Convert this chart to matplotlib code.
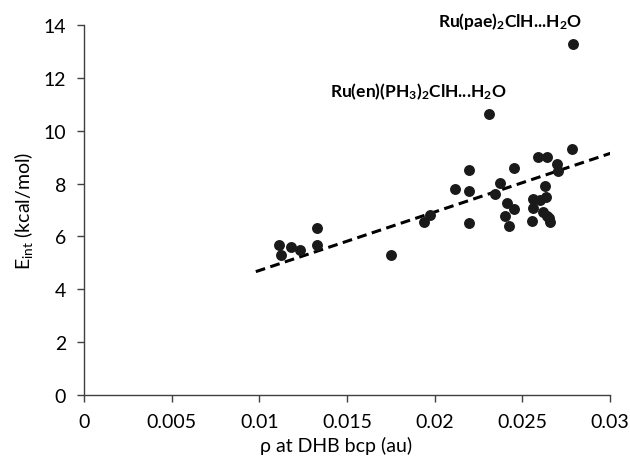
import numpy as np
import matplotlib
matplotlib.use("Agg")
from matplotlib import pyplot as plt

plt.rcParams['font.family'] = ['Lato', 'DejaVu Sans']
plt.rcParams['mathtext.fontset'] = 'custom'
plt.rcParams['mathtext.rm'] = 'Lato'
plt.rcParams['mathtext.bf'] = 'Lato:bold'
plt.rcParams['mathtext.default'] = 'regular'

# electron density at the DHB bond critical point (au)
rho = [0.01114, 0.01124, 0.01179, 0.01232, 0.01331, 0.01331, 0.01751,
       0.01941, 0.01974, 0.02116, 0.02196, 0.02196, 0.02196, 0.02312,
       0.02344, 0.02373, 0.02411, 0.02452, 0.02452, 0.02401, 0.02424,
       0.02588, 0.02643, 0.02696, 0.02705, 0.02781, 0.02791, 0.02631,
       0.02563, 0.02601, 0.02635, 0.02563, 0.02555, 0.02620, 0.02639,
       0.02650, 0.02658]
# interaction energies (kcal/mol)
e_int = [5.66, 5.28, 5.61, 5.48, 6.31, 5.68, 5.28,
         6.56, 6.82, 7.80, 8.53, 7.71, 6.50, 10.64,
         7.61, 8.03, 7.27, 8.60, 7.02, 6.79, 6.38,
         9.00, 9.00, 8.75, 8.49, 9.32, 13.29, 7.90,
         7.40, 7.36, 7.49, 7.07, 6.60, 6.92, 6.77,
         6.69, 6.56]

# trendline as drawn in the original
trend_x = [0.0098, 0.0301]
trend_slope = 221.4
trend_intercept = 2.498

labels = [(0.02791, 13.29, r'Ru(pae)$_\mathbf{2}$ClH...H$_\mathbf{2}$O', (6.5, 16.5)),
          (0.02312, 10.64, r'Ru(en)(PH$_\mathbf{3}$)$_\mathbf{2}$ClH...H$_\mathbf{2}$O', (12.5, 16.5))]

x_ticks = [0, 0.005, 0.01, 0.015, 0.02, 0.025, 0.03]
x_tick_labels = ['0', '0.005', '0.01', '0.015', '0.02', '0.025', '0.03']
y_ticks = [0, 2, 4, 6, 8, 10, 12, 14]

fig = plt.figure(figsize=(6.3, 4.77), dpi=100)
ax = fig.add_axes([0.1333, 0.1698, 0.835, 0.7757])

ax.scatter(rho, e_int, s=62, color='#1a1a1a', zorder=3, linewidths=0)

xs = np.array(trend_x)
ax.plot(xs, trend_slope * xs + trend_intercept, color='black', lw=2.2,
        ls=(0, (3.2, 1.8)), zorder=2)

for x, y, txt, off in labels:
    ax.annotate(txt, xy=(x, y), xytext=off, textcoords='offset points',
                ha='right', va='center', fontsize=12.5, fontweight='bold',
                annotation_clip=False)

ax.set_xlim(0, 0.03)
ax.set_ylim(0, 14)
ax.set_xticks(x_ticks)
ax.set_xticklabels(x_tick_labels)
ax.set_yticks(y_ticks)
ax.tick_params(labelsize=14, direction='out', length=5, width=1, color='#404040', pad=8)
ax.spines['top'].set_visible(False)
ax.spines['right'].set_visible(False)
for s in ['left', 'bottom']:
    ax.spines[s].set_color('#404040')
    ax.spines[s].set_linewidth(1)

ax.set_xlabel(r'ρ at DHB bcp (au)', fontsize=14)
ax.xaxis.set_label_coords(0.479, -0.11)
ax.set_ylabel(r'E$_{int}$ (kcal/mol)', fontsize=14, labelpad=6)

fig.savefig('out.png', dpi=100)
